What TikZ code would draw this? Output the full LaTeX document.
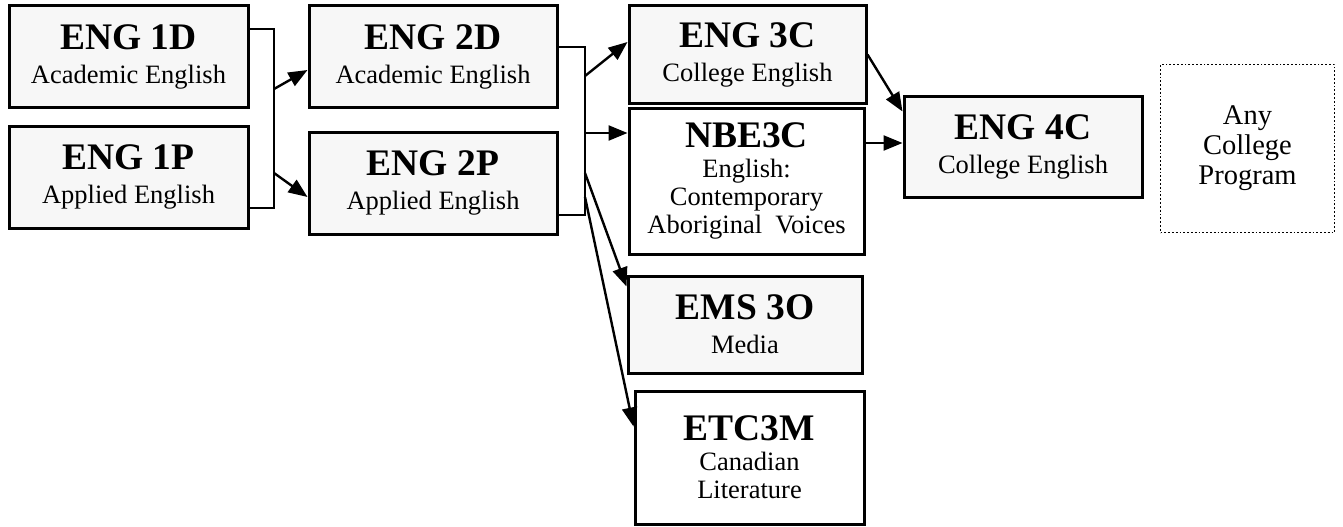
\documentclass[tikz,border=0pt]{standalone}
\usepackage{fontspec}
\setmainfont{Liberation Serif}
\usetikzlibrary{arrows.meta,calc}
\definecolor{boxgray}{HTML}{F7F7F7}
\begin{document}
\begin{tikzpicture}[x=1pt,y=-1pt,
  course/.style={draw, line width=3pt, fill=boxgray, align=center, inner sep=0pt,
    font=\fontsize{26.5}{28}\selectfont},
  plainbox/.style={course, fill=white},
  conn/.style={line width=2.4pt},
  arr/.style={conn, -{Triangle[length=19pt,width=15pt]}}]
\useasboundingbox (0,0) rectangle (1343,527);
\newcommand{\ctitle}[1]{{\fontsize{37.5}{37.5}\selectfont\bfseries #1}}
\node[course, minimum width=239, minimum height=101] (e1d) at (128.5,56.5)
  {\ctitle{ENG 1D}\\[6pt]Academic English};
\node[course, minimum width=239, minimum height=102] (e1p) at (128.5,177)
  {\ctitle{ENG 1P}\\[6pt]Applied English};
\node[course, minimum width=248, minimum height=101] (e2d) at (433,56.5)
  {\ctitle{ENG 2D}\\[6pt]Academic English};
\node[course, minimum width=248, minimum height=102] (e2p) at (433,183)
  {\ctitle{ENG 2P}\\[6pt]Applied English};
\node[course, minimum width=237, minimum height=97] (e3c) at (747.5,54.5)
  {\ctitle{ENG 3C}\\[6pt]College English};
\node[plainbox, minimum width=235, minimum height=146] (nbe) at (746.5,181)
  {\ctitle{NBE3C}\\[2pt]English:\\Contemporary\\Aboriginal\ \ Voices};
\node[course, minimum width=234, minimum height=97] (ems) at (745,324.5)
  {\ctitle{EMS 3O}\\[6pt]Media};
\node[plainbox, minimum width=229, minimum height=133] (etc) at (749.5,457.5)
  {\ctitle{ETC3M}\\[2pt]Canadian\\Literature};
\node[course, minimum width=238, minimum height=101] (e4c) at (1023,146.5)
  {\ctitle{ENG 4C}\\[6pt]College English};
\node[draw, line width=1.8pt, dotted, align=center, inner sep=0pt,
  font=\fontsize{28.5}{30}\selectfont, minimum width=174, minimum height=168] (any) at (1247.5,148.5)
  {Any\\College\\Program};
% bracket 1
\coordinate (b1t) at (274,29);
\coordinate (b1b) at (274,208);
\draw[conn] (e1d.east |- b1t) -- (b1t) -- (b1b) -- (e1p.east |- b1b);
\draw[arr] (274,89) -- ($(e2d.west)+(0,13.5)$);
\draw[arr] (274,173) -- ($(e2p.west)+(0,14)$);
% bracket 2
\coordinate (b2t) at (585,47);
\coordinate (b2b) at (585,215);
\draw[conn] (e2d.east |- b2t) -- (b2t) -- (b2b) -- (e2p.east |- b2b);
\draw[arr] (585,76) -- ($(e3c.west)+(0,-12.5)$);
\draw[arr] (585,133) -- ($(nbe.west)+(0,-48)$);
\draw[arr] (585,173) -- ($(ems.north west)+(0,12)$);
\draw[arr] (585,197) -- ($(etc.west)+(0,-31)$);
% to ENG 4C
\draw[arr] (e3c.east) -- ($(e4c.west)+(0,-35)$);
\draw[arr] ($(nbe.east)+(0,-38)$) -- ($(e4c.west)+(0,-3.5)$);
\end{tikzpicture}
\end{document}
